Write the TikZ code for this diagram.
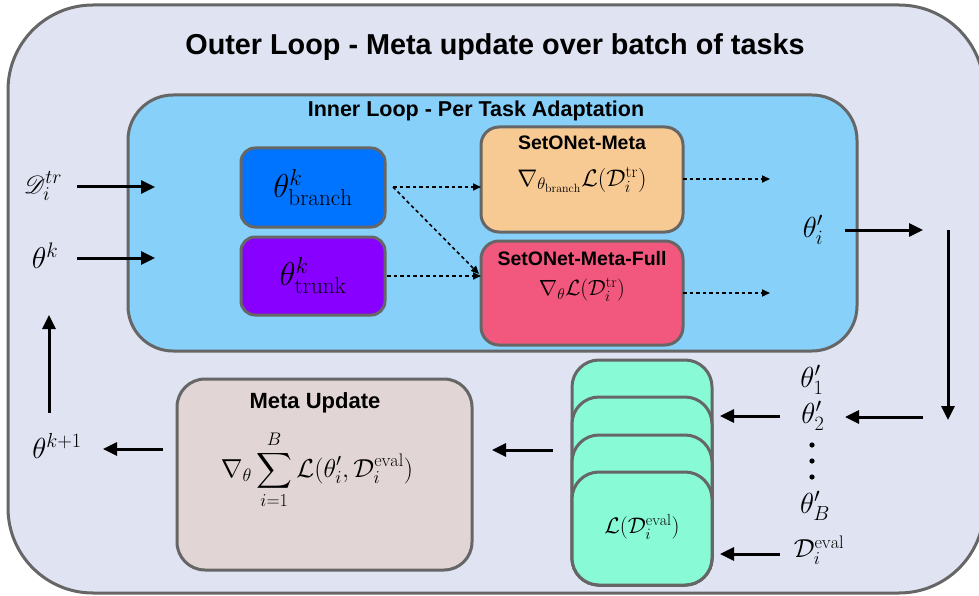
\RequirePackage{fix-cm}
\documentclass[tikz,border=0pt]{standalone}
\usepackage{amsmath}
\usepackage{mathrsfs}
\usepackage{fontspec}
\newfontfamily\arialfont{Liberation Sans}
\usetikzlibrary{arrows.meta}
\definecolor{outerfill}{RGB}{223,227,242}
\definecolor{innerfill}{RGB}{135,208,250}
\definecolor{branchfill}{RGB}{0,115,255}
\definecolor{trunkfill}{RGB}{136,0,255}
\definecolor{metafill}{RGB}{247,202,148}
\definecolor{fullfill}{RGB}{242,88,126}
\definecolor{updfill}{RGB}{226,213,213}
\definecolor{cardfill}{RGB}{136,250,213}
\definecolor{edgegray}{RGB}{102,102,102}
\newcommand{\fs}[1]{\fontsize{#1}{#1}\selectfont}
\tikzset{
  panel/.style={draw=edgegray, line width=3pt, inner sep=0pt, outer sep=0pt},
  bigarrow/.style={line width=3pt, -{Triangle[length=14pt,width=13pt]}},
  dotarrow/.style={line width=1.6pt, dash pattern=on 3.5pt off 3pt, -{Triangle[length=8pt,width=7pt]}},
  heading/.style={font=\arialfont\bfseries, inner sep=0pt},
  lbl/.style={inner sep=0pt}
}
\begin{document}
\begin{tikzpicture}[x=1pt,y=-1pt]
\useasboundingbox (0,0) rectangle (979,596);
% outer panel
\node[panel, fill=outerfill, rounded corners=85pt, minimum width=976pt, minimum height=588pt] (outer) at (496,299) {};
\node[heading, font=\arialfont\bfseries\fs{28.8}] (otitle) at (495,47) {Outer Loop - Meta update over batch of tasks};
% inner panel
\node[panel, fill=innerfill, rounded corners=45pt, minimum width=729pt, minimum height=256pt] (inner) at (492.5,223) {};
\node[heading, font=\arialfont\bfseries\fs{21.5}] (ititle) at (476,111) {Inner Loop - Per Task Adaptation};
% parameter boxes
\node[panel, fill=branchfill, rounded corners=14pt, minimum width=144pt, minimum height=79pt, font=\fs{33}] (branch) at (313,187.5) {$\theta^{k}_{\mathrm{branch}}$};
\node[panel, fill=trunkfill, rounded corners=14pt, minimum width=144pt, minimum height=78pt, font=\fs{33}] (trunk) at (313,276) {$\theta^{k}_{\mathrm{trunk}}$};
% method boxes
\node[panel, fill=metafill, rounded corners=18pt, minimum width=202pt, minimum height=105pt] (meta) at (582,179.5) {};
\node[heading, font=\arialfont\bfseries\fs{19.5}] (metat) at (582,143) {SetONet-Meta};
\node[lbl, font=\fs{24}] (metaf) at (582,180) {$\nabla_{\theta_{\mathrm{branch}}}\mathcal{L}(\mathcal{D}_i^{\mathrm{tr}})$};
\node[panel, fill=fullfill, rounded corners=18pt, minimum width=202pt, minimum height=104pt] (full) at (582,293) {};
\node[heading, font=\arialfont\bfseries\fs{19.5}] (fullt) at (582,259) {SetONet-Meta-Full};
\node[lbl, font=\fs{22}] (fullf) at (582,290) {$\nabla_{\theta}\mathcal{L}(\mathcal{D}_i^{\mathrm{tr}})$};
% meta update box
\node[panel, fill=updfill, rounded corners=28pt, minimum width=295pt, minimum height=191pt] (upd) at (324.5,474.5) {};
\node[heading, font=\arialfont\bfseries\fs{22}] (updt) at (315,403) {Meta Update};
\node[lbl, font=\fs{26}] (updf) at (317,470) {$\displaystyle\nabla_{\theta}\sum_{i=1}^{B}\mathcal{L}(\theta^{\prime}_{i},\mathcal{D}_i^{\mathrm{eval}})$};
% stacked cards
\node[panel, fill=cardfill, rounded corners=27pt, minimum width=140pt, minimum height=225pt] (card1) at (642,472.5) {};
\node[panel, fill=cardfill, rounded corners=27pt, minimum width=140pt, minimum height=188pt] (card2) at (642,491) {};
\node[panel, fill=cardfill, rounded corners=27pt, minimum width=140pt, minimum height=150pt] (card3) at (642,510) {};
\node[panel, fill=cardfill, rounded corners=27pt, minimum width=140pt, minimum height=113pt] (card4) at (642,528.5) {};
\node[lbl, font=\fs{22.5}] (cardf) at (642,527) {$\mathcal{L}(\mathcal{D}_i^{\mathrm{eval}})$};
% outer labels
\node[lbl, font=\fs{28}] (dtr) at (43,186) {$\mathscr{D}_i^{tr}$};
\node[lbl, font=\fs{30}] (thk) at (45,256) {$\theta^{k}$};
\node[lbl, font=\fs{29}] (thk1) at (57,446) {$\theta^{k+1}$};
\node[lbl, font=\fs{29}] (thi) at (813,230) {$\theta^{\prime}_{i}$};
\node[lbl, font=\fs{29}] (th1) at (812,380) {$\theta^{\prime}_{1}$};
\node[lbl, font=\fs{29}] (th2) at (813,416) {$\theta^{\prime}_{2}$};
\node[lbl, font=\fs{29}] (thB) at (815,506) {$\theta^{\prime}_{B}$};
\node[lbl, font=\fs{26}] (deval) at (819,550) {$\mathcal{D}_i^{\mathrm{eval}}$};
\fill (812,445) circle (2.6pt) (812,461) circle (2.6pt) (812,477) circle (2.6pt);
% arrow end coordinates
\coordinate (a1s) at (77,187); \coordinate (a1e) at (155,187);
\coordinate (a2s) at (77,258); \coordinate (a2e) at (155,258);
\coordinate (a3s) at (845,230); \coordinate (a3e) at (923,230);
\coordinate (a4s) at (948,230); \coordinate (a4e) at (948,420);
\coordinate (a5s) at (923,417); \coordinate (a5e) at (845,417);
\coordinate (a6s) at (780,416); \coordinate (a6e) at (720,416);
\coordinate (a7s) at (780,554); \coordinate (a7e) at (720,554);
\coordinate (a8s) at (553,450); \coordinate (a8e) at (492,450);
\coordinate (a9s) at (163,449); \coordinate (a9e) at (103,449);
\coordinate (a10s) at (49,413); \coordinate (a10e) at (49,315);
\foreach \i in {1,...,10} \draw[bigarrow] (a\i s) -- (a\i e);
% dotted arrows
\coordinate (bs) at (393,187);
\coordinate (ts) at (387,276);
\coordinate (mo) at (770,179);
\coordinate (fo) at (770,293);
\draw[dotarrow] (bs) -- (meta.west |- bs);
\draw[dotarrow] (bs) -- (479,274);
\draw[dotarrow] (ts) -- (full.west |- ts);
\draw[dotarrow] (meta.east |- mo) -- (mo);
\draw[dotarrow] (full.east |- fo) -- (fo);
\end{tikzpicture}
\end{document}
